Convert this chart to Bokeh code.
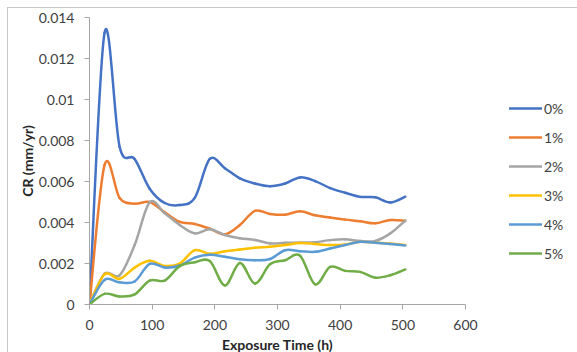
import numpy as np
from bokeh.plotting import figure
from bokeh.models import Range1d, Legend, LegendItem, ColumnDataSource, FixedTicker
from bokeh.embed import file_html
from bokeh.resources import INLINE

# ---------------- data ----------------
hours = [0, 24, 48, 72, 96, 120, 144, 168, 192, 216, 240, 264, 288, 312, 336,
         360, 384, 408, 432, 456, 480, 504]

cr_0 = [0, 0.01325, 0.0077, 0.0071, 0.00565, 0.00495, 0.00485, 0.0052, 0.0071, 0.00665, 0.00615,
        0.0059, 0.00577, 0.0059, 0.0062, 0.00602, 0.00568, 0.00545, 0.00525, 0.00523, 0.00498, 0.00526]
cr_1 = [0, 0.0068, 0.0052, 0.00492, 0.005, 0.0045, 0.00403, 0.00393, 0.0037, 0.00342, 0.00388,
        0.00457, 0.00442, 0.00438, 0.00455, 0.00435, 0.00424, 0.00414, 0.00406, 0.00396, 0.00412, 0.00408]
cr_2 = [0, 0.0015, 0.00142, 0.0029, 0.00498, 0.00445, 0.00388, 0.00347, 0.00367, 0.00339, 0.00323,
        0.00315, 0.00298, 0.00301, 0.00302, 0.00304, 0.00314, 0.00318, 0.0031, 0.0031, 0.00347, 0.0041]
cr_3 = [0, 0.00147, 0.00125, 0.0018, 0.00213, 0.00188, 0.002, 0.00265, 0.00247, 0.0026, 0.00268,
        0.00277, 0.00282, 0.0029, 0.003, 0.00295, 0.0029, 0.00293, 0.00306, 0.00301, 0.00298, 0.0029]
cr_4 = [0, 0.0012, 0.00108, 0.00112, 0.00198, 0.0018, 0.0019, 0.00229, 0.00243, 0.00233, 0.00221,
        0.00216, 0.00222, 0.00265, 0.0026, 0.00257, 0.00273, 0.0029, 0.00306, 0.00301, 0.00295, 0.00288]
cr_5 = [0, 0.00052, 0.00039, 0.00049, 0.00117, 0.00117, 0.00187, 0.00206, 0.00212, 0.00093, 0.00203,
        0.00102, 0.00196, 0.00216, 0.00238, 0.00098, 0.00183, 0.00164, 0.00159, 0.00131, 0.00143, 0.00171]

series_names = ["0%", "1%", "2%", "3%", "4%", "5%"]
series_values = [cr_0, cr_1, cr_2, cr_3, cr_4, cr_5]
series_colors = ["#4472C4", "#ED7D31", "#A5A5A5", "#FFC000", "#5B9BD5", "#70AD47"]

x_ticks = [0, 100, 200, 300, 400, 500, 600]
y_ticks = [0, 0.002, 0.004, 0.006, 0.008, 0.01, 0.012, 0.014]
y_tick_labels = ["0", "0.002", "0.004", "0.006", "0.008", "0.01", "0.012", "0.014"]

x_title = "Exposure Time (h)"
y_title = "CR (mm/yr)"


def smooth_segments(x, y):
    """Excel-style smoothed line: cubic Bezier segments through the data points."""
    x = np.asarray(x, dtype=float)
    y = np.asarray(y, dtype=float)
    xp = np.concatenate([[x[0]], x, [x[-1]]])
    yp = np.concatenate([[y[0]], y, [y[-1]]])
    n = len(x)
    i = np.arange(n - 1)
    cx0 = x[i] + (xp[i + 2] - xp[i]) / 6.0
    cy0 = y[i] + (yp[i + 2] - yp[i]) / 6.0
    cx1 = x[i + 1] - (xp[i + 3] - xp[i + 1]) / 6.0
    cy1 = y[i + 1] - (yp[i + 3] - yp[i + 1]) / 6.0
    return ColumnDataSource(dict(x0=x[:-1], y0=y[:-1], x1=x[1:], y1=y[1:],
                                 cx0=cx0, cy0=cy0, cx1=cx1, cy1=cy1))


FONT = "Lato"
TXT = "#404040"

p = figure(frame_width=376, frame_height=287,
           min_border_left=81, min_border_right=112, min_border_top=9, min_border_bottom=48,
           x_range=Range1d(0, 600), y_range=Range1d(0, 0.014),
           output_backend="svg", toolbar_location=None)
p.styles = {"margin-left": "7px", "margin-top": "7px",
            "border-left": "1px solid #c8c8c8", "border-top": "1px solid #c8c8c8"}

p.xgrid.visible = False
p.ygrid.visible = False
p.outline_line_color = None
p.background_fill_color = "white"
p.border_fill_color = "white"

items = []
for name, vals, col in zip(series_names, series_values, series_colors):
    src = smooth_segments(hours, vals)
    r = p.bezier(x0="x0", y0="y0", x1="x1", y1="y1", cx0="cx0", cy0="cy0", cx1="cx1", cy1="cy1",
                 source=src, line_color=col, line_width=2.5, line_cap="round")
    items.append(LegendItem(label=name, renderers=[r]))

p.xaxis.ticker = FixedTicker(ticks=x_ticks)
p.yaxis.ticker = FixedTicker(ticks=y_ticks)
p.yaxis.major_label_overrides = {t: s for t, s in zip(y_ticks, y_tick_labels)}

for ax in (p.xaxis[0], p.yaxis[0]):
    ax.axis_line_color = "#a6a6a6"
    ax.axis_line_width = 1
    ax.major_tick_line_color = "#a6a6a6"
    ax.major_tick_out = 5
    ax.major_tick_in = 0
    ax.minor_tick_line_color = None
    ax.major_label_text_font = FONT
    ax.major_label_text_font_size = "14px"
    ax.major_label_text_color = TXT
    ax.axis_label_text_font = FONT
    ax.axis_label_text_font_size = "14px"
    ax.axis_label_text_font_style = "bold"
    ax.axis_label_text_color = "#262626"

p.xaxis.axis_label = x_title
p.yaxis.axis_label = y_title
p.xaxis.major_label_standoff = 10
p.yaxis.major_label_standoff = 10
p.xaxis.axis_label_standoff = 3
p.yaxis.axis_label_standoff = 0

legend = Legend(items=items, location=(44, 38),
                glyph_width=33, glyph_height=26, label_height=26, spacing=3,
                label_standoff=2, padding=0, margin=0,
                border_line_color=None, background_fill_alpha=0,
                label_text_font=FONT, label_text_font_size="14px", label_text_color=TXT)
p.add_layout(legend, "right")

open("out.html", "w").write(file_html(p, INLINE))
